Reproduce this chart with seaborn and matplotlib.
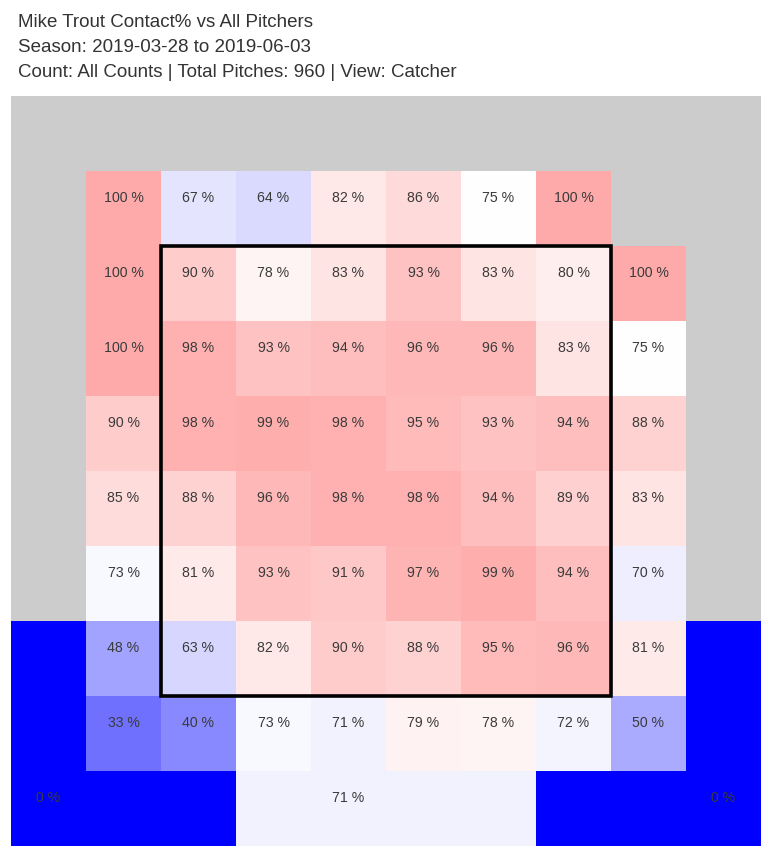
import numpy as np
import pandas as pd
import matplotlib
matplotlib.use("Agg")
import matplotlib.pyplot as plt
from matplotlib.patches import Rectangle
import seaborn as sns

# ---- data ----
title_lines = [
    "Mike Trout Contact% vs All Pitchers",
    "Season: 2019-03-28 to 2019-06-03",
    "Count: All Counts | Total Pitches: 960 | View: Catcher",
]
# inner 8x8 grid of zones (rows top->bottom, cols left->right, catcher view)
row1 = [100, 67, 64, 82, 86, 75, 100, np.nan]
row2 = [100, 90, 78, 83, 93, 83, 80, 100]
row3 = [100, 98, 93, 94, 96, 96, 83, 75]
row4 = [90, 98, 99, 98, 95, 93, 94, 88]
row5 = [85, 88, 96, 98, 98, 94, 89, 83]
row6 = [73, 81, 93, 91, 97, 99, 94, 70]
row7 = [48, 63, 82, 90, 88, 95, 96, 81]
row8 = [33, 40, 73, 71, 79, 78, 72, 50]
# outer zones
outer_low_left = 0
outer_low_middle = 71
outer_low_right = 0

inner = np.array([row1, row2, row3, row4, row5, row6, row7, row8], dtype=float)

grid = np.full((10, 10), np.nan)
grid[1:9, 1:9] = inner
grid[7:10, 0] = outer_low_left
grid[9, 0:3] = outer_low_left
grid[9, 3:7] = outer_low_middle
grid[7:10, 9] = outer_low_right
grid[9, 7:10] = outer_low_right

labels = np.full((10, 10), "", dtype=object)
for i in range(1, 9):
    for j in range(1, 9):
        v = grid[i, j]
        if not np.isnan(v):
            labels[i, j] = f"{v:.0f} %"
labels[9, 0] = f"{outer_low_left} %"
labels[9, 4] = f"{outer_low_middle} %"
labels[9, 9] = f"{outer_low_right} %"

df = pd.DataFrame(grid)

# ---- figure ----
W, H = 780, 863
fig = plt.figure(figsize=(W / 100, H / 100), dpi=100)
ax = fig.add_axes([11 / W, 1 - 846 / H, 750 / W, 750 / H])
ax.set_facecolor("#cccccc")

sns.heatmap(df, cmap="bwr", vmin=0, vmax=150, cbar=False, ax=ax,
            xticklabels=False, yticklabels=False, linewidths=0)

for i in range(10):
    for j in range(10):
        if labels[i, j]:
            ax.text(j + 0.5, i + 0.36, labels[i, j], ha="center", va="center",
                    fontsize=10.2, color="#3a3a3a", family="Liberation Sans")

ax.add_patch(Rectangle((2, 2), 6, 6, fill=False, edgecolor="black",
                       linewidth=2.6, zorder=5))
ax.set_xlim(0, 10)
ax.set_ylim(10, 0)
for s in ax.spines.values():
    s.set_visible(False)
ax.set_xlabel("")
ax.set_ylabel("")

baselines = [27, 52, 77]
for line, b in zip(title_lines, baselines):
    fig.text(18 / W, 1 - b / H, line, ha="left", va="baseline",
             fontsize=13.5, color="#333333", family="Liberation Sans")

fig.savefig("out.png", dpi=100)
